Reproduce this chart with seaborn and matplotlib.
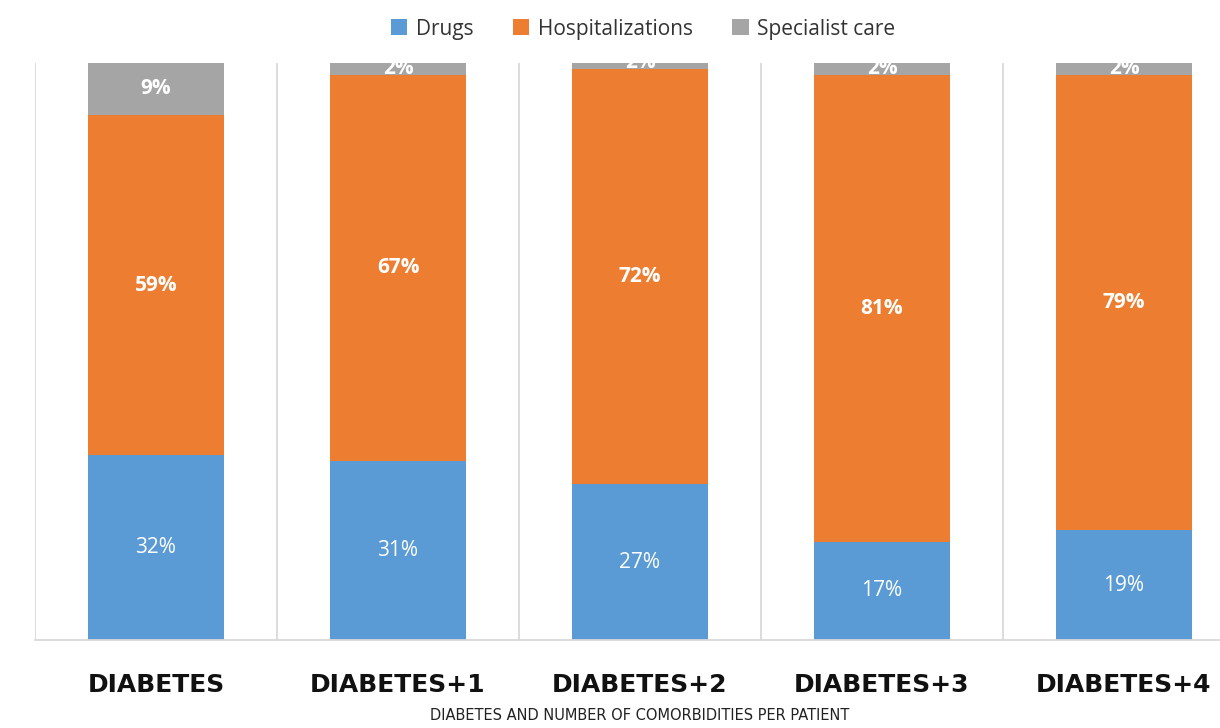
import numpy as np
import pandas as pd
import seaborn as sns
from matplotlib import pyplot as plt
from matplotlib.patches import Patch

categories = ["DIABETES", "DIABETES+1", "DIABETES+2", "DIABETES+3", "DIABETES+4"]
drugs_pct = [32, 31, 27, 17, 19]
hosp_pct = [59, 67, 72, 81, 79]
spec_pct = [9, 2, 2, 2, 2]
series_names = ["Drugs", "Hospitalizations", "Specialist care"]

BLUE = "#5B9BD5"
ORANGE = "#ED7D31"
GREY = "#A5A5A5"
GRID = "#D9D9D9"

sns.set_theme(style="white")
plt.rcParams["font.family"] = ["Open Sans", "DejaVu Sans"]

df = pd.DataFrame({
    "category": categories,
    "drugs": np.array(drugs_pct) / 100.0,
    "hosp": np.array(hosp_pct) / 100.0,
    "spec": np.array(spec_pct) / 100.0,
})
df["top_hosp"] = df["drugs"] + df["hosp"]
df["top_spec"] = df["top_hosp"] + df["spec"]

fig = plt.figure(figsize=(12.2, 7.28), dpi=100)
ax = fig.add_axes([35 / 1220, 1 - 640 / 728, (1245 - 35) / 1220, (640 - 63) / 728])

# back to front: cumulative totals so each layer shows its own segment
for col, color in (("top_spec", GREY), ("top_hosp", ORANGE), ("drugs", BLUE)):
    sns.barplot(data=df, x="category", y=col, color=color, width=0.56,
                saturation=1, linewidth=0, ax=ax, zorder=2)

ax.set_ylim(0, 1)
ax.set_xlim(-0.5, len(categories) - 0.5)

# segment labels
for i, row in df.iterrows():
    ax.text(i, row["drugs"] / 2, f"{drugs_pct[i]}%", ha="center", va="center",
            color="white", fontsize=15, zorder=3, clip_on=True)
    ax.text(i, (row["drugs"] + row["top_hosp"]) / 2, f"{hosp_pct[i]}%", ha="center",
            va="center", color="white", fontsize=15, fontweight="bold", zorder=3, clip_on=True)
    ax.text(i, (row["top_hosp"] + row["top_spec"]) / 2, f"{spec_pct[i]}%", ha="center",
            va="center", color="white", fontsize=15, fontweight="bold", zorder=3, clip_on=True)

# vertical separators between categories
ax.set_xticks(np.arange(-0.5, len(categories), 1.0), minor=True)
ax.grid(which="minor", axis="x", color=GRID, linewidth=1.3, zorder=0)
ax.tick_params(which="both", length=0)
ax.set_yticks([])
for side in ("left", "right", "top"):
    ax.spines[side].set_visible(False)
ax.spines["bottom"].set_color(GRID)
ax.spines["bottom"].set_linewidth(1.3)

ax.set_xticks(range(len(categories)))
ax.set_xticklabels(categories, fontsize=18, fontweight="bold", family="DejaVu Sans",
                   color="#111111")
ax.tick_params(axis="x", pad=24)
ax.set_ylabel("")
ax.set_xlabel("DIABETES AND NUMBER OF COMORBIDITIES PER PATIENT", fontsize=10.5,
              family=["Liberation Sans Narrow", "DejaVu Sans"], color="#222222", labelpad=8)

handles = [Patch(facecolor=c, edgecolor="none") for c in (BLUE, ORANGE, GREY)]
fig.legend(handles, series_names, loc="center", bbox_to_anchor=(643 / 1220, 1 - 29 / 728),
           ncol=3, frameon=False, fontsize=15, handlelength=0.8, handleheight=0.8,
           handletextpad=0.4, columnspacing=1.9, labelcolor="#333333")

fig.savefig("out.png", dpi=100)
plt.close(fig)
